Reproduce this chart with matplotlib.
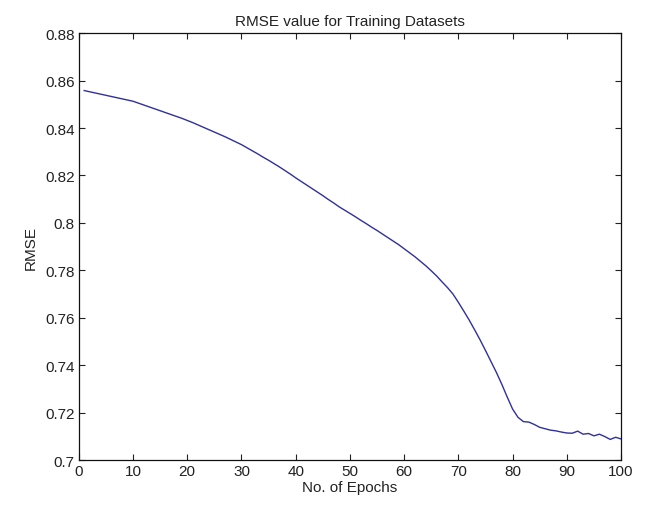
import matplotlib
matplotlib.use("Agg")
import matplotlib.pyplot as plt
import numpy as np

plt.rcParams['font.family'] = ['Liberation Sans', 'DejaVu Sans']

# RMSE per epoch
epochs = np.arange(1, 101)
rmse = [
    0.8558, 0.8553, 0.8548, 0.8543, 0.8538, 0.8533, 0.8528, 0.8523, 0.8518, 0.8513,
    0.8505, 0.8497, 0.8489, 0.8481, 0.8473, 0.8465, 0.8457, 0.8449, 0.8441, 0.8432,
    0.8423, 0.8413, 0.8403, 0.8393, 0.8383, 0.8373, 0.8363, 0.8352, 0.8341, 0.8330,
    0.8317, 0.8304, 0.8291, 0.8277, 0.8264, 0.8250, 0.8236, 0.8221, 0.8206, 0.8190,
    0.8175, 0.8160, 0.8145, 0.8130, 0.8115, 0.8099, 0.8084, 0.8068, 0.8054, 0.8040,
    0.8026, 0.8011, 0.7997, 0.7982, 0.7968, 0.7953, 0.7938, 0.7923, 0.7908, 0.7891,
    0.7874, 0.7857, 0.7838, 0.7819, 0.7798, 0.7776, 0.7751, 0.7727, 0.7700, 0.7665,
    0.7628, 0.7590, 0.7549, 0.7507, 0.7462, 0.7416, 0.7370, 0.7320, 0.7266, 0.7215,
    0.7180, 0.7162, 0.7160, 0.7150, 0.7138, 0.7132, 0.7126, 0.7123, 0.7118, 0.7114,
    0.7113, 0.7122, 0.7109, 0.7112, 0.7102, 0.7109, 0.7099, 0.7087, 0.7096, 0.7089,
]
x_ticks = np.arange(0, 101, 10)
y_ticks = np.arange(0.70, 0.881, 0.02)
y_labels = ['0.7', '0.72', '0.74', '0.76', '0.78', '0.8', '0.82', '0.84', '0.86', '0.88']

fig = plt.figure(figsize=(6.51, 5.10), dpi=100)
ax = fig.add_axes([0.121, 0.096, 0.833, 0.837])

ax.plot(epochs, rmse, color='#30309a', linewidth=1.0)

ax.set_xlim(0, 100)
ax.set_ylim(0.70, 0.88)
ax.set_xticks(x_ticks)
ax.set_yticks(y_ticks)
ax.set_yticklabels(y_labels)
ax.tick_params(direction='in', top=True, right=True, length=4.5, width=0.8,
               labelsize=11, colors='#222222', pad=3)
for s in ax.spines.values():
    s.set_linewidth(0.9)
    s.set_color('#111111')

ax.set_title("RMSE value for Training Datasets", fontsize=11, pad=6, color='#222222')
ax.set_xlabel("No. of Epochs", fontsize=11, labelpad=1, color='#222222')
ax.set_ylabel("RMSE", fontsize=11, labelpad=5, color='#222222')

fig.savefig("out.png", dpi=100, facecolor='white')
